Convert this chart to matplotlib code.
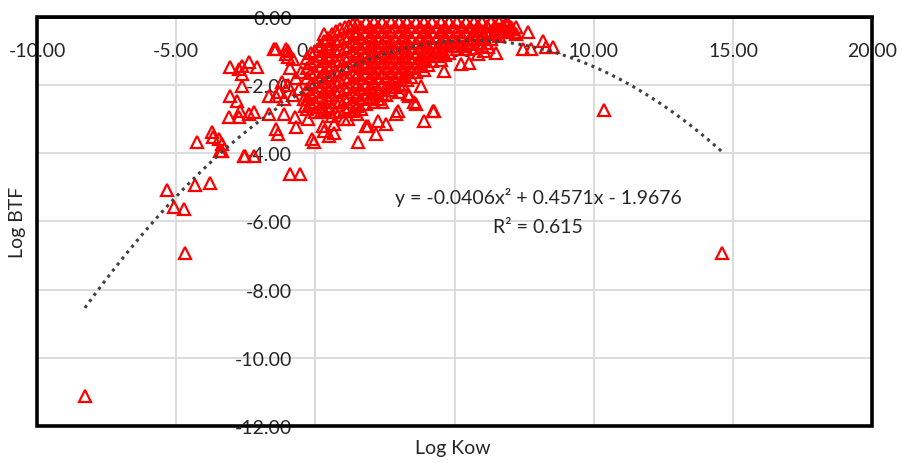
import matplotlib
matplotlib.use("Agg")
import matplotlib.pyplot as plt
from matplotlib.patches import Rectangle
from matplotlib.ticker import FuncFormatter
import numpy as np

plt.rcParams['font.family'] = ['Lato', 'DejaVu Sans']

# outliers and sparse points (Log Kow, Log BTF)
sparse_kow = [-8.28, 14.62, 10.36, -5.34, -5.09, -4.73, -4.34, -3.80, -4.70, -3.37,
              -2.58, -4.27, -3.73, -3.66, -3.48, -3.37, -3.42, -3.12, -2.76, -2.83,
              -2.72, -2.76, -2.65, -2.40, -2.11, -2.65, -2.40, -2.19, -1.68, -1.68,
              -1.40, -1.04, -0.97, -0.79, -1.40, -1.33, -1.11, -0.75, -0.68, -0.25,
              -0.14, -0.04, 0.29, 0.50, -2.54, -2.19, -0.93, -0.57, -0.39, -1.40,
              -1.11, -3.05, -2.65, -3.08, -1.50, -1.04, -0.97, 0.32, 1.47,
              1.54, 2.19, 2.26, 2.97, 3.80, 3.91, 4.27, 3.37, 3.62, 1.83,
              1.18, 0.68, 0.32, 1.04, 2.54, 2.90, 4.62, 5.23, 5.84, 6.20,
              7.63, 7.46, 7.74, 8.17, 8.28, 8.53, 7.13, 7.03, 6.85, 6.06,
              4.23, 3.55, 3.33, 1.90, 0.20, 0.68, -0.9, -0.7, -0.6, -0.8,
              -0.5, -1.0, -1.2, -1.3, -0.4, 5.5, 6.5]
sparse_btf = [-11.11, -6.92, -2.73, -5.07, -5.57, -5.63, -4.93, -4.87, -6.92, -3.93,
              -4.08, -3.67, -3.37, -3.52, -3.58, -3.72, -3.93, -2.93, -2.93, -2.46,
              -2.76, -1.52, -1.44, -1.32, -1.47, -2.02, -2.84, -2.79, -2.84, -2.32,
              -0.94, -1.08, -1.00, -1.23, -3.28, -3.43, -2.84, -2.93, -3.23, -2.99,
              -3.58, -3.67, -3.20, -3.49, -4.08, -4.08, -4.60, -4.60, -2.60, -2.32,
              -2.41, -1.47, -1.67, -2.32, -0.94, -0.94, -1.17, -0.50, -0.44,
              -3.67, -3.43, -3.05, -2.76, -2.02, -3.05, -2.76, -2.32, -2.55, -3.20,
              -2.99, -3.14, -3.35, -3.00, -3.14, -2.85, -1.58, -1.38, -1.08, -0.88,
              -0.44, -0.94, -0.94, -0.70, -0.88, -0.88, -0.44, -0.29, -0.20, -1.00,
              -2.76, -2.50, -2.26, -3.20, -2.80, -3.40, -1.5, -1.8, -2.1, -2.3,
              -1.6, -2.0, -1.9, -2.2, -2.4, -1.35, -1.05]

# dense cluster, grouped by Log Kow (two interleaved columns sets)
dense_kow = ([-0.3] * 6 + [0.0] * 7 + [0.3] * 8 + [0.6] * 9 + [0.9] * 9 + [1.2] * 9
             + [1.5] * 10 + [1.8] * 9 + [2.1] * 9 + [2.4] * 9 + [2.7] * 8 + [3.0] * 8
             + [3.3] * 7 + [3.6] * 6 + [3.9] * 6 + [4.2] * 5 + [4.5] * 5 + [4.8] * 4
             + [5.1] * 4 + [5.4] * 4 + [5.7] * 4 + [6.0] * 4 + [6.3] * 3 + [6.6] * 3
             + [6.9] * 2 + [7.2] * 2)
dense_btf = [-1.2, -1.5, -1.8, -2.1, -2.4, -2.7,
             -1.0, -1.3, -1.6, -1.9, -2.2, -2.5, -2.8,
             -0.7, -1.0, -1.3, -1.6, -1.9, -2.2, -2.5, -2.75,
             -0.5, -0.8, -1.1, -1.4, -1.7, -2.0, -2.3, -2.6, -2.9,
             -0.35, -0.65, -0.95, -1.25, -1.55, -1.85, -2.15, -2.45, -2.75,
             -0.25, -0.55, -0.85, -1.15, -1.45, -1.75, -2.05, -2.35, -2.65,
             -0.2, -0.5, -0.8, -1.1, -1.4, -1.7, -2.0, -2.3, -2.6, -2.85,
             -0.15, -0.45, -0.75, -1.05, -1.35, -1.65, -1.95, -2.25, -2.55,
             -0.15, -0.4, -0.7, -1.0, -1.3, -1.6, -1.9, -2.2, -2.5,
             -0.15, -0.45, -0.75, -1.05, -1.35, -1.65, -1.95, -2.25, -2.5,
             -0.15, -0.4, -0.7, -1.0, -1.3, -1.6, -1.9, -2.15,
             -0.15, -0.45, -0.75, -1.05, -1.35, -1.65, -1.95, -2.2,
             -0.15, -0.4, -0.7, -1.0, -1.3, -1.6, -1.85,
             -0.15, -0.45, -0.75, -1.05, -1.35, -1.6,
             -0.15, -0.4, -0.7, -1.0, -1.3, -1.55,
             -0.15, -0.45, -0.75, -1.05, -1.3,
             -0.15, -0.4, -0.7, -1.0, -1.25,
             -0.15, -0.45, -0.75, -1.05,
             -0.15, -0.4, -0.7, -0.95,
             -0.15, -0.45, -0.75, -0.95,
             -0.15, -0.4, -0.65, -0.9,
             -0.15, -0.4, -0.65, -0.85,
             -0.15, -0.4, -0.65,
             -0.15, -0.35, -0.55,
             -0.2, -0.4,
             -0.3, -0.5]

fill_kow = ([-0.15] * 6 + [0.15] * 7 + [0.45] * 8 + [0.75] * 9 + [1.05] * 9
            + [1.35] * 10 + [1.65] * 9 + [1.95] * 8 + [2.25] * 8 + [2.55] * 8
            + [2.85] * 7 + [3.15] * 7 + [3.45] * 6 + [3.75] * 5 + [4.05] * 5
            + [4.35] * 4 + [4.65] * 4 + [4.95] * 3 + [5.25] * 3 + [5.55] * 3
            + [5.85] * 3 + [6.15] * 3 + [6.45] * 2 + [6.75] * 2 + [7.05] * 1)
fill_btf = [-1.05, -1.35, -1.65, -1.95, -2.25, -2.55,
            -0.85, -1.15, -1.45, -1.75, -2.05, -2.35, -2.65,
            -0.6, -0.9, -1.2, -1.5, -1.8, -2.1, -2.4, -2.7,
            -0.4, -0.7, -1.0, -1.3, -1.6, -1.9, -2.2, -2.5, -2.8,
            -0.3, -0.6, -0.9, -1.2, -1.5, -1.8, -2.1, -2.4, -2.7,
            -0.2, -0.4, -0.7, -1.0, -1.3, -1.6, -1.9, -2.2, -2.5, -2.75,
            -0.3, -0.6, -0.9, -1.2, -1.5, -1.8, -2.1, -2.4, -2.7,
            -0.3, -0.55, -0.85, -1.15, -1.45, -1.75, -2.05, -2.35,
            -0.3, -0.6, -0.9, -1.2, -1.5, -1.8, -2.1, -2.4,
            -0.3, -0.55, -0.85, -1.15, -1.45, -1.75, -2.05, -2.3,
            -0.3, -0.6, -0.9, -1.2, -1.5, -1.8, -2.05,
            -0.3, -0.55, -0.85, -1.15, -1.45, -1.75, -2.0,
            -0.3, -0.6, -0.9, -1.2, -1.5, -1.75,
            -0.3, -0.6, -0.9, -1.2, -1.45,
            -0.3, -0.55, -0.85, -1.15, -1.4,
            -0.3, -0.6, -0.9, -1.15,
            -0.3, -0.55, -0.85, -1.1,
            -0.3, -0.6, -0.85,
            -0.3, -0.55, -0.85,
            -0.3, -0.6, -0.8,
            -0.25, -0.5, -0.75,
            -0.25, -0.5, -0.75,
            -0.25, -0.5,
            -0.25, -0.45,
            -0.35]

# polynomial trendline
coef = [-0.0406, 0.4571, -1.9676]
trend_range = [-8.28, 14.62]

x_ticks = [-10, -5, 0, 5, 10, 15, 20]
y_ticks = [0, -2, -4, -6, -8, -10, -12]

fig = plt.figure(figsize=(9.02, 4.64), dpi=100)
ax = fig.add_axes([0.041, 0.080, 0.926, 0.881])

kow = sparse_kow + dense_kow + fill_kow
btf = sparse_btf + dense_btf + fill_btf
ax.plot(kow, btf, ls='none', marker='^', ms=8.8, mfc='none', mec='#ff0000',
        mew=1.6, zorder=3)

xt = np.linspace(trend_range[0], trend_range[1], 300)
ax.plot(xt, np.polyval(coef, xt), color='#404040', lw=2.2,
        ls=(0, (1, 1.5)), zorder=4)

ax.set_xlim(-10, 20)
ax.set_ylim(-12, 0)
ax.set_xticks(x_ticks)
ax.set_yticks(y_ticks)
fmt = FuncFormatter(lambda v, p: f"{v:.2f}")
ax.xaxis.set_major_formatter(fmt)
ax.yaxis.set_major_formatter(fmt)

ax.spines['bottom'].set_position(('data', 0))
ax.spines['left'].set_position(('data', 0))
ax.spines['bottom'].set_color('black')
ax.spines['bottom'].set_linewidth(2)
ax.spines['left'].set_color('#d9d9d9')
ax.spines['left'].set_linewidth(1.3)
ax.spines['top'].set_visible(False)
ax.spines['right'].set_visible(False)

ax.tick_params(axis='x', length=0, pad=18, labelsize=14, colors='#262626')
ax.tick_params(axis='y', length=0, pad=17, labelsize=14, colors='#262626')

ax.grid(True, color='#d9d9d9', lw=1.3)
ax.set_axisbelow(True)

ax.add_patch(Rectangle((0, 0), 1, 1, transform=ax.transAxes, fill=False,
                       ec='black', lw=2.6, clip_on=False, zorder=10))

ax.text(8.0, -5.28, "y = -0.0406x² + 0.4571x - 1.9676", ha='center',
        va='center', fontsize=14, color='#262626')
ax.text(8.0, -6.15, "R² = 0.615", ha='center', va='center', fontsize=14,
        color='#262626')

fig.text(453 / 902, 1 - 449 / 464, "Log Kow", ha='center', va='center',
         fontsize=14, color='#262626')
fig.text(18 / 902, 1 - 222 / 464, "Log BTF", ha='center', va='center',
         rotation=90, fontsize=14, color='#262626')

fig.savefig("out.png", dpi=100)
